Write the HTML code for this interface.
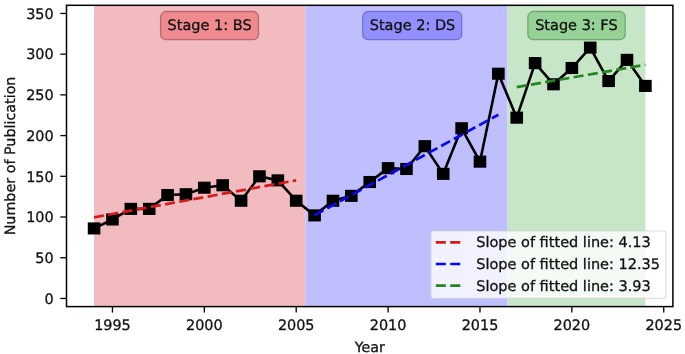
<!DOCTYPE html>
<html><head><meta charset="utf-8"><style>
html,body{margin:0;padding:0;background:#fff;}
svg{display:block;filter:blur(0.3px);}
</style></head><body>
<svg width="685" height="354" viewBox="0 0 685 354" font-family="'DejaVu Sans', 'Liberation Sans', sans-serif" text-rendering="geometricPrecision"><style>text{stroke:#111;stroke-width:0.3px;}</style>
<rect x="0" y="0" width="685" height="354" fill="#ffffff"/>
<rect x="94.07" y="5.31" width="211.34" height="301.29" fill="#f1bbc0"/>
<rect x="305.40" y="5.31" width="202.15" height="301.29" fill="#bfbfff"/>
<rect x="507.55" y="5.31" width="137.83" height="301.29" fill="#c7e6c7"/>
<polyline points="94.07,228.42 112.44,219.46 130.82,208.88 149.20,208.88 167.57,195.04 185.95,194.22 204.33,187.71 222.70,185.26 241.08,200.74 259.46,176.31 277.84,180.38 296.21,200.74 314.59,215.39 332.97,200.74 351.34,195.85 369.72,182.01 388.10,168.16 406.47,168.98 424.85,146.18 443.23,173.86 461.61,128.26 479.98,161.65 498.36,73.71 516.74,117.68 535.11,63.12 553.49,84.29 571.87,68.01 590.24,47.65 608.62,81.03 627.00,59.86 645.38,85.92" fill="none" stroke="#000" stroke-width="2.6" stroke-linejoin="round"/>
<rect x="87.77" y="222.37" width="12.6" height="12.1" fill="#000"/>
<rect x="106.14" y="213.41" width="12.6" height="12.1" fill="#000"/>
<rect x="124.52" y="202.83" width="12.6" height="12.1" fill="#000"/>
<rect x="142.90" y="202.83" width="12.6" height="12.1" fill="#000"/>
<rect x="161.27" y="188.99" width="12.6" height="12.1" fill="#000"/>
<rect x="179.65" y="188.17" width="12.6" height="12.1" fill="#000"/>
<rect x="198.03" y="181.66" width="12.6" height="12.1" fill="#000"/>
<rect x="216.40" y="179.21" width="12.6" height="12.1" fill="#000"/>
<rect x="234.78" y="194.69" width="12.6" height="12.1" fill="#000"/>
<rect x="253.16" y="170.26" width="12.6" height="12.1" fill="#000"/>
<rect x="271.54" y="174.33" width="12.6" height="12.1" fill="#000"/>
<rect x="289.91" y="194.69" width="12.6" height="12.1" fill="#000"/>
<rect x="308.29" y="209.34" width="12.6" height="12.1" fill="#000"/>
<rect x="326.67" y="194.69" width="12.6" height="12.1" fill="#000"/>
<rect x="345.04" y="189.80" width="12.6" height="12.1" fill="#000"/>
<rect x="363.42" y="175.96" width="12.6" height="12.1" fill="#000"/>
<rect x="381.80" y="162.11" width="12.6" height="12.1" fill="#000"/>
<rect x="400.17" y="162.93" width="12.6" height="12.1" fill="#000"/>
<rect x="418.55" y="140.13" width="12.6" height="12.1" fill="#000"/>
<rect x="436.93" y="167.81" width="12.6" height="12.1" fill="#000"/>
<rect x="455.31" y="122.21" width="12.6" height="12.1" fill="#000"/>
<rect x="473.68" y="155.60" width="12.6" height="12.1" fill="#000"/>
<rect x="492.06" y="67.66" width="12.6" height="12.1" fill="#000"/>
<rect x="510.44" y="111.63" width="12.6" height="12.1" fill="#000"/>
<rect x="528.81" y="57.07" width="12.6" height="12.1" fill="#000"/>
<rect x="547.19" y="78.24" width="12.6" height="12.1" fill="#000"/>
<rect x="565.57" y="61.96" width="12.6" height="12.1" fill="#000"/>
<rect x="583.94" y="41.60" width="12.6" height="12.1" fill="#000"/>
<rect x="602.32" y="74.98" width="12.6" height="12.1" fill="#000"/>
<rect x="620.70" y="53.81" width="12.6" height="12.1" fill="#000"/>
<rect x="639.08" y="79.87" width="12.6" height="12.1" fill="#000"/>
<line x1="94.07" y1="217.31" x2="296.21" y2="180.36" stroke="#d41c1c" stroke-width="2.72" stroke-dasharray="10.07,4.36"/>
<line x1="314.59" y1="215.24" x2="498.36" y2="114.72" stroke="#0a0ae6" stroke-width="2.72" stroke-dasharray="10.07,4.36"/>
<line x1="516.74" y1="87.14" x2="645.38" y2="64.75" stroke="#268520" stroke-width="2.72" stroke-dasharray="10.07,4.36"/>
<rect x="66.50" y="5.31" width="606.40" height="301.29" fill="none" stroke="#000" stroke-width="1.5"/>
<line x1="112.44" y1="306.59" x2="112.44" y2="312.59" stroke="#000" stroke-width="1.3"/>
<g transform="translate(112.44,330.45) scale(1,1.0)"><text x="0" y="0" font-size="14.4" text-anchor="middle" fill="#111111">1995</text></g>
<line x1="204.33" y1="306.59" x2="204.33" y2="312.59" stroke="#000" stroke-width="1.3"/>
<g transform="translate(204.33,330.45) scale(1,1.0)"><text x="0" y="0" font-size="14.4" text-anchor="middle" fill="#111111">2000</text></g>
<line x1="296.21" y1="306.59" x2="296.21" y2="312.59" stroke="#000" stroke-width="1.3"/>
<g transform="translate(296.21,330.45) scale(1,1.0)"><text x="0" y="0" font-size="14.4" text-anchor="middle" fill="#111111">2005</text></g>
<line x1="388.10" y1="306.59" x2="388.10" y2="312.59" stroke="#000" stroke-width="1.3"/>
<g transform="translate(388.10,330.45) scale(1,1.0)"><text x="0" y="0" font-size="14.4" text-anchor="middle" fill="#111111">2010</text></g>
<line x1="479.98" y1="306.59" x2="479.98" y2="312.59" stroke="#000" stroke-width="1.3"/>
<g transform="translate(479.98,330.45) scale(1,1.0)"><text x="0" y="0" font-size="14.4" text-anchor="middle" fill="#111111">2015</text></g>
<line x1="571.87" y1="306.59" x2="571.87" y2="312.59" stroke="#000" stroke-width="1.3"/>
<g transform="translate(571.87,330.45) scale(1,1.0)"><text x="0" y="0" font-size="14.4" text-anchor="middle" fill="#111111">2020</text></g>
<line x1="663.75" y1="306.59" x2="663.75" y2="312.59" stroke="#000" stroke-width="1.3"/>
<g transform="translate(663.75,330.45) scale(1,1.0)"><text x="0" y="0" font-size="14.4" text-anchor="middle" fill="#111111">2025</text></g>
<line x1="60.30" y1="298.45" x2="66.50" y2="298.45" stroke="#000" stroke-width="1.3"/>
<g transform="translate(53.60,303.75) scale(1,1.0)"><text x="0" y="0" font-size="14.4" text-anchor="end" fill="#111111">0</text></g>
<line x1="60.30" y1="257.74" x2="66.50" y2="257.74" stroke="#000" stroke-width="1.3"/>
<g transform="translate(53.60,263.04) scale(1,1.0)"><text x="0" y="0" font-size="14.4" text-anchor="end" fill="#111111">50</text></g>
<line x1="60.30" y1="217.02" x2="66.50" y2="217.02" stroke="#000" stroke-width="1.3"/>
<g transform="translate(53.60,222.32) scale(1,1.0)"><text x="0" y="0" font-size="14.4" text-anchor="end" fill="#111111">100</text></g>
<line x1="60.30" y1="176.31" x2="66.50" y2="176.31" stroke="#000" stroke-width="1.3"/>
<g transform="translate(53.60,181.61) scale(1,1.0)"><text x="0" y="0" font-size="14.4" text-anchor="end" fill="#111111">150</text></g>
<line x1="60.30" y1="135.59" x2="66.50" y2="135.59" stroke="#000" stroke-width="1.3"/>
<g transform="translate(53.60,140.89) scale(1,1.0)"><text x="0" y="0" font-size="14.4" text-anchor="end" fill="#111111">200</text></g>
<line x1="60.30" y1="94.88" x2="66.50" y2="94.88" stroke="#000" stroke-width="1.3"/>
<g transform="translate(53.60,100.18) scale(1,1.0)"><text x="0" y="0" font-size="14.4" text-anchor="end" fill="#111111">250</text></g>
<line x1="60.30" y1="54.16" x2="66.50" y2="54.16" stroke="#000" stroke-width="1.3"/>
<g transform="translate(53.60,59.46) scale(1,1.0)"><text x="0" y="0" font-size="14.4" text-anchor="end" fill="#111111">300</text></g>
<line x1="60.30" y1="13.45" x2="66.50" y2="13.45" stroke="#000" stroke-width="1.3"/>
<g transform="translate(53.60,18.75) scale(1,1.0)"><text x="0" y="0" font-size="14.4" text-anchor="end" fill="#111111">350</text></g>
<g transform="translate(369.70,351.60) scale(1,1.0)"><text x="0" y="0" font-size="14.2" text-anchor="middle" fill="#111111">Year</text></g>
<g transform="translate(15.40,155.95) rotate(-90) scale(1,1.0)"><text x="0" y="0" font-size="14.3" text-anchor="middle" fill="#111111">Number of Publication</text></g>
<rect x="160.60" y="11.5" width="97.90" height="28.2" rx="5.5" ry="5.5" fill="#ef8a8f" stroke="#b86a70" stroke-width="1.3"/>
<g transform="translate(209.60,29.60) scale(1,1.0)"><text x="0" y="0" font-size="14.5" text-anchor="middle" fill="#111111">Stage 1: BS</text></g>
<rect x="362.70" y="11.5" width="99.00" height="28.2" rx="5.5" ry="5.5" fill="#9290ff" stroke="#7472d0" stroke-width="1.3"/>
<g transform="translate(412.50,29.60) scale(1,1.0)"><text x="0" y="0" font-size="14.5" text-anchor="middle" fill="#111111">Stage 2: DS</text></g>
<rect x="527.90" y="11.5" width="97.30" height="28.2" rx="5.5" ry="5.5" fill="#96d296" stroke="#6fa86f" stroke-width="1.3"/>
<g transform="translate(576.40,29.60) scale(1,1.0)"><text x="0" y="0" font-size="14.5" text-anchor="middle" fill="#111111">Stage 3: FS</text></g>
<rect x="431.0" y="231.0" width="234.9" height="67.3" rx="2.5" ry="2.5" fill="#ffffff" fill-opacity="0.8" stroke="#d0d0d0" stroke-opacity="0.7" stroke-width="1.2"/>
<line x1="435.8" y1="242.40" x2="460.4" y2="242.40" stroke="#d41c1c" stroke-width="2.72" stroke-dasharray="10.07,4.36"/>
<g transform="translate(476.20,247.40) scale(1,1.0)"><text x="0" y="0" font-size="14.5" text-anchor="start" fill="#111111">Slope of fitted line: 4.13</text></g>
<line x1="435.8" y1="264.00" x2="460.4" y2="264.00" stroke="#0a0ae6" stroke-width="2.72" stroke-dasharray="10.07,4.36"/>
<g transform="translate(476.20,269.00) scale(1,1.0)"><text x="0" y="0" font-size="14.5" text-anchor="start" fill="#111111">Slope of fitted line: 12.35</text></g>
<line x1="435.8" y1="285.60" x2="460.4" y2="285.60" stroke="#268520" stroke-width="2.72" stroke-dasharray="10.07,4.36"/>
<g transform="translate(476.20,290.60) scale(1,1.0)"><text x="0" y="0" font-size="14.5" text-anchor="start" fill="#111111">Slope of fitted line: 3.93</text></g>
</svg>
</body></html>
